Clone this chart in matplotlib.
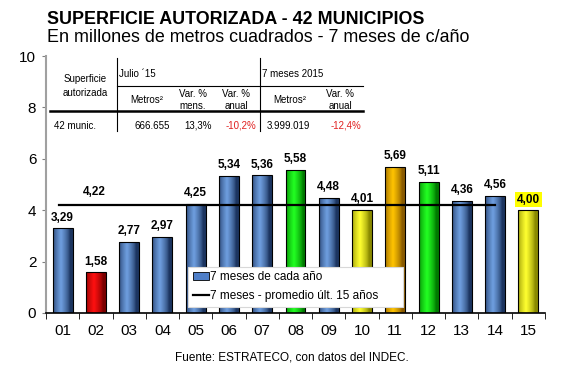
import numpy as np
import matplotlib.pyplot as plt
from matplotlib.colors import LinearSegmentedColormap
from matplotlib.lines import Line2D
from matplotlib.patches import Patch

plt.rcParams["font.family"] = ["Liberation Sans", "DejaVu Sans"]

# -------------------------
# Data
# -------------------------
years = ["01", "02", "03", "04", "05", "06", "07", "08", "09", "10", "11", "12", "13", "14", "15"]
values = [3.29, 1.58, 2.77, 2.97, 4.25, 5.34, 5.36, 5.58, 4.48, 4.01, 5.69, 5.11, 4.36, 4.56, 4.00]
bar_colors = ["blue", "red", "blue", "blue", "blue", "blue", "blue", "green",
              "blue", "yellow", "orange", "green", "blue", "blue", "yellow"]
avg_15 = 4.22

table_head = ["Metros²", "Var. %\nmens.", "Var. %\nanual", "Metros²", "Var. %\nanual"]
table_row = ["666.655", "13,3%", "-10,2%", "3.999.019", "-12,4%"]

PALETTE = {
    "blue": ("#1c3560", "#6f9fe0"),
    "red": ("#7a0000", "#ff1010"),
    "green": ("#007a00", "#22ff22"),
    "yellow": ("#8a8a00", "#ffff30"),
    "orange": ("#8a5a00", "#ffc400"),
}

W, H = 562, 374
fig = plt.figure(figsize=(W / 100, H / 100), dpi=100)
ax = fig.add_axes([46 / W, 1 - 313 / H, (545 - 46) / W, (313 - 56) / H])


def fx(px):
    return px / W


def fy(py):
    return 1 - py / H


# -------------------------
# Bars (with a horizontal gradient)
# -------------------------
x = np.arange(len(years))
bw = 0.6
bars = ax.bar(x, values, width=bw, color="none", edgecolor="black", linewidth=0.8, zorder=3)
grad = np.linspace(0, 1, 64)
shape = np.clip(1 - np.abs(grad - 0.4) * 2.2, 0, 1) ** 0.7
for b, c in zip(bars, bar_colors):
    dark, light = PALETTE[c]
    cmap = LinearSegmentedColormap.from_list(c, [dark, light])
    im = ax.imshow(shape[None, :], cmap=cmap, aspect="auto", vmin=0, vmax=1,
                   extent=[b.get_x(), b.get_x() + b.get_width(), 0, b.get_height()],
                   zorder=2, interpolation="bilinear")
    im.set_clip_path(b)

for xi, v in zip(x, values):
    label = f"{v:.2f}".replace(".", ",")
    if xi == len(years) - 1:
        ax.text(xi, v + 0.18, label, ha="center", va="bottom", fontsize=8.5,
                fontweight="bold", zorder=5,
                bbox=dict(boxstyle="square,pad=0.15", fc="#ffff00", ec="none"))
    else:
        ax.text(xi, v + 0.18, label, ha="center", va="bottom", fontsize=8.5,
                fontweight="bold", zorder=5)

# average line
ax.plot([x[0] - 0.1, x[-2]], [avg_15, avg_15], color="black", linewidth=1.6, zorder=4)
ax.text(0.95, avg_15 + 0.25, f"{avg_15:.2f}".replace(".", ","), ha="center", va="bottom",
        fontsize=8.5, fontweight="bold")

# -------------------------
# Axes
# -------------------------
ax.set_xlim(-0.5, len(years) - 0.5)
ax.set_ylim(0, 10)
ax.set_yticks([0, 2, 4, 6, 8, 10])
ax.tick_params(axis="y", labelsize=11, length=3, color="#808080", pad=4)
ax.set_xticks(x)
ax.set_xticklabels(years, fontsize=11)
ax.set_xticks(np.arange(len(years) + 1) - 0.5, minor=True)
ax.tick_params(axis="x", which="major", length=0, pad=8)
ax.tick_params(axis="x", which="minor", length=4, color="black", direction="out")
for s in ["top", "right"]:
    ax.spines[s].set_visible(False)
ax.spines["left"].set_color("#a0a0a0")
ax.spines["left"].set_linewidth(1.5)
ax.spines["bottom"].set_color("black")
ax.spines["bottom"].set_linewidth(1.2)

# -------------------------
# Legend
# -------------------------
handles = [
    Patch(facecolor="#4f7fc8", edgecolor="black", linewidth=0.6),
    Line2D([0], [0], color="black", linewidth=1.6),
]
leg = fig.legend(handles, ["7 meses de cada año", "7 meses - promedio últ. 15 años"],
                 loc="lower left", bbox_to_anchor=(fx(182), fy(313), fx(227), fy(266) - fy(313)),
                 mode="expand", fontsize=8.5, frameon=True, fancybox=False, framealpha=1,
                 edgecolor="#d8d8d8",
                 handlelength=1.4, handletextpad=0.1, borderpad=0.4, labelspacing=0.6)
leg.get_frame().set_linewidth(0.8)
leg.set_zorder(10)

# -------------------------
# Table
# -------------------------
def hline(x0, x1, y, lw):
    fig.add_artist(Line2D([fx(x0), fx(x1)], [fy(y), fy(y)], color="black", linewidth=lw))


def vline(xp, y0, y1):
    fig.add_artist(Line2D([fx(xp), fx(xp)], [fy(y0), fy(y1)], color="black", linewidth=0.8))


hline(50, 363, 111, 1.8)
hline(117, 363, 86, 0.8)
vline(117, 58, 131)
vline(260, 58, 131)

tfs = 7
fig.text(fx(85), fy(79), "Superficie", ha="center", va="center", fontsize=tfs)
fig.text(fx(85), fy(93), "autorizada", ha="center", va="center", fontsize=tfs)
fig.text(fx(119), fy(74), "Julio ´15", ha="left", va="center", fontsize=tfs)
fig.text(fx(262), fy(74), "7 meses 2015", ha="left", va="center", fontsize=tfs)
head_x = [147, 193, 236, 290, 340]
for hx, t in zip(head_x, table_head):
    fig.text(fx(hx), fy(100), t, ha="center", va="center", fontsize=tfs, linespacing=1.3)
fig.text(fx(54), fy(126), "42 munic.", ha="left", va="center", fontsize=tfs)
row_x = [170, 212, 256, 310, 361]
for rx, t in zip(row_x, table_row):
    col = "#e02020" if t.startswith("-") else "black"
    fig.text(fx(rx), fy(126), t, ha="right", va="center", fontsize=tfs, color=col)

# -------------------------
# Titles
# -------------------------
fig.text(fx(47), fy(20), "SUPERFICIE AUTORIZADA - 42 MUNICIPIOS", ha="left", va="center",
         fontsize=12.9, fontweight="bold")
fig.text(fx(47), fy(38), "En millones de metros cuadrados - 7 meses de c/año", ha="left",
         va="center", fontsize=12.9)
fig.text(fx(292), fy(358), "Fuente: ESTRATECO, con datos del INDEC.", ha="center", va="center",
         fontsize=8.5)

fig.savefig("out.png", dpi=100)
